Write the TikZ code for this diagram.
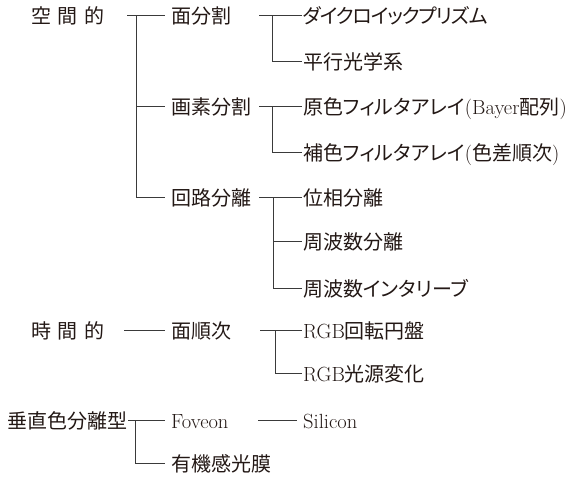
\documentclass[tikz,border=0pt]{standalone}
\usepackage{fontspec}
\newfontfamily\jp{Noto Sans CJK JP}[RawFeature=+palt]
\newfontfamily\jpk{Noto Sans CJK JP}[RawFeature=+palt,LetterSpace=-6]
\newcommand\lat[1]{{\rmfamily\fontsize{20.5pt}{24pt}\selectfont #1}}
\definecolor{txt}{HTML}{231815}
\definecolor{ln}{HTML}{3A3A3A}
\tikzset{
  lbl/.style={anchor=base west, inner sep=0pt, text=txt, font=\jp\fontsize{20pt}{24pt}\selectfont},
  conn/.style={draw=ln, line width=1pt},
  inA/.style={shift={(-6pt,8pt)}},
  inB/.style={shift={(-1pt,8pt)}}
}
\begin{document}
\begin{tikzpicture}[x=1pt,y=-1pt]
\useasboundingbox (0,0) rectangle (568,477);
% level 0
\node[lbl] (a1) at (31,23) {空\hspace{6.5pt}間\hspace{6.5pt}的};
\node[lbl] (a2) at (31,338) {時\hspace{6.5pt}間\hspace{6.5pt}的};
\node[lbl] (a3) at (7,428.5) {垂直色分離型};
% level 1
\node[lbl] (b1) at (171,23) {面分割};
\node[lbl] (b2) at (171,114) {画素分割};
\node[lbl] (b3) at (171,205.5) {回路分離};
\node[lbl] (b4) at (171,338) {面順次};
\node[lbl] (b5) at (171,428.5) {\lat{Foveon}};
\node[lbl] (b6) at (171,471.5) {有機感光膜};
% level 2
\node[lbl] (c1) at (303,23) {\jpk ダイクロイックプリズム};
\node[lbl] (c2) at (303,69) {平行光学系};
\node[lbl] (c3) at (303,114) {原色フィルタアレイ\lat{(Bayer}配列\lat{)}};
\node[lbl] (c4) at (303,160) {補色フィルタアレイ\lat{(}色差順次\lat{)}};
\node[lbl] (c5) at (303,205.5) {位相分離};
\node[lbl] (c6) at (303,249) {周波数分離};
\node[lbl] (c7) at (303,296) {周波数インタリーブ};
\node[lbl] (c8) at (303,338) {\lat{RGB}回転円盤};
\node[lbl] (c9) at (303,381.5) {\lat{RGB}光源変化};
\node[lbl] (c10) at (303,428.5) {\lat{Silicon}};
% junction coordinates
\coordinate (sA) at (127,15);    \coordinate (jA) at (136,15);
\coordinate (sB) at (259,15);    \coordinate (jB) at (272,15);
\coordinate (sC) at (259,106);   \coordinate (jC) at (272,106);
\coordinate (sD) at (259,197.5); \coordinate (jD) at (273,197.5);
\coordinate (sE) at (124,330);
\coordinate (sF) at (260,330);   \coordinate (jF) at (275,330);
\coordinate (sG) at (128,420.5); \coordinate (jG) at (135,420.5);
\coordinate (sH) at (258,420.5);
% connectors
\draw[conn] (sA) -- ([inA]b1.base west);
\draw[conn] (jA) |- ([inA]b2.base west);
\draw[conn] (jA) |- ([inA]b3.base west);
\draw[conn] (sB) -- ([inB]c1.base west);
\draw[conn] (jB) |- ([inB]c2.base west);
\draw[conn] (sC) -- ([inB]c3.base west);
\draw[conn] (jC) |- ([inB]c4.base west);
\draw[conn] (sD) -- ([inB]c5.base west);
\draw[conn] (jD) |- ([inB]c6.base west);
\draw[conn] (jD) |- ([inB]c7.base west);
\draw[conn] (sE) -- ([inA]b4.base west);
\draw[conn] (sF) -- ([inB]c8.base west);
\draw[conn] (jF) |- ([inB]c9.base west);
\draw[conn] (sG) -- ([inA]b5.base west);
\draw[conn] (jG) |- ([inA]b6.base west);
\draw[conn] (sH) -- ([inA]c10.base west);
\end{tikzpicture}
\end{document}
